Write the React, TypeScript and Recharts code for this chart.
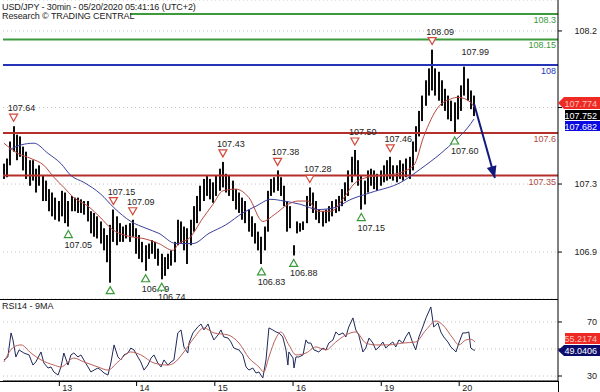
import {
  Bar,
  CartesianGrid,
  ComposedChart,
  Line,
  ReferenceLine,
  Scatter,
  XAxis,
  YAxis,
} from "recharts"

// hourly bars, t = hours since chart start
const barHigh = [
  107.42, 107.45, 107.55, 107.64, 107.59, 107.58, 107.52, 107.49, 107.44, 107.44,
  107.39, 107.41, 107.35, 107.32, 107.27, 107.25, 107.22, 107.2, 107.26, 107.25,
  107.2, 107.23, 107.22, 107.22, 107.21, 107.2, 107.2, 107.14, 107.13, 107.11,
  107.08, 107.04, 107.0, 107.06, 107.15, 107.11, 107.07, 107.05, 107.06, 107.07,
  107.09, 107.04, 107.0, 106.96, 106.94, 106.95, 106.97, 106.96, 106.92, 106.89,
  106.87, 106.89, 106.91, 106.96, 107.09, 107.08, 107.05, 107.04, 107.09, 107.17,
  107.23, 107.29, 107.33, 107.35, 107.33, 107.31, 107.35, 107.39, 107.43, 107.36,
  107.35, 107.32, 107.27, 107.25, 107.22, 107.2, 107.15, 107.11, 107.07, 107.02,
  106.99, 107.05, 107.26, 107.33, 107.34, 107.38, 107.34, 107.29, 107.2, 107.17,
  106.94, 107.08, 107.07, 107.08, 107.23, 107.28, 107.25, 107.2, 107.15, 107.14,
  107.15, 107.17, 107.2, 107.21, 107.23, 107.27, 107.31, 107.38, 107.46, 107.5,
  107.44, 107.35, 107.32, 107.38, 107.39, 107.38, 107.36, 107.38, 107.41, 107.44,
  107.46, 107.41, 107.41, 107.44, 107.42, 107.45, 107.46, 107.55, 107.64, 107.73,
  107.82, 107.91, 107.98, 108.09, 107.98, 107.96, 107.91, 107.86, 107.82, 107.79,
  107.78, 107.82, 107.88, 107.99, 107.92, 107.85, 107.82,
]
const barLow = [
  107.33, 107.34, 107.41, 107.49, 107.44, 107.46, 107.38, 107.33, 107.29, 107.32,
  107.25, 107.29, 107.2, 107.2, 107.14, 107.11, 107.09, 107.08, 107.11, 107.07,
  107.05, 107.14, 107.14, 107.13, 107.13, 107.12, 107.08, 107.01, 106.99, 106.98,
  106.95, 106.91, 106.84, 106.72, 106.96, 106.94, 106.96, 106.96, 106.98, 106.96,
  106.99, 106.89, 106.86, 106.84, 106.79, 106.86, 106.89, 106.86, 106.82, 106.74,
  106.76, 106.8, 106.82, 106.84, 106.94, 106.95, 106.91, 106.83, 106.94, 107.02,
  107.07, 107.14, 107.2, 107.23, 107.21, 107.19, 107.23, 107.26, 107.28, 107.25,
  107.23, 107.2, 107.15, 107.13, 107.09, 107.07, 107.02, 106.99, 106.95, 106.91,
  106.83, 106.91, 107.02, 107.23, 107.25, 107.26, 107.23, 107.17, 107.02, 107.04,
  106.88, 107.01, 107.02, 107.03, 107.07, 107.17, 107.13, 107.09, 107.07, 107.05,
  107.07, 107.08, 107.11, 107.13, 107.14, 107.17, 107.2, 107.23, 107.31, 107.35,
  107.29, 107.15, 107.18, 107.25, 107.29, 107.27, 107.26, 107.29, 107.31, 107.32,
  107.33, 107.32, 107.31, 107.33, 107.32, 107.34, 107.33, 107.38, 107.49, 107.58,
  107.67, 107.76, 107.82, 107.85, 107.82, 107.79, 107.76, 107.73, 107.68, 107.67,
  107.6, 107.68, 107.73, 107.82, 107.79, 107.74, 107.7,
]

// moving averages: [t, value]
const maFast: [number, number][] = [
  [0, 107.54], [4.3, 107.48], [8.4, 107.45], [12.4, 107.41], [15.5, 107.34],
  [18.6, 107.28], [21.7, 107.22], [26.1, 107.17], [30.1, 107.1], [33.2, 107.04],
  [39.4, 106.99], [43.2, 106.98], [48.1, 106.95], [52.5, 106.91], [54.3, 106.95],
  [57.5, 106.98], [61.8, 107.1], [64.9, 107.18], [68, 107.26], [72, 107.27],
  [76.1, 107.22], [80.4, 107.08], [84, 107.12], [88.2, 107.18], [91.3, 107.2],
  [94.4, 107.2], [97.5, 107.14], [101.6, 107.14], [105.6, 107.22], [108.7, 107.3],
  [113, 107.34], [117.1, 107.35], [121.7, 107.36], [127.3, 107.41], [130.4, 107.58],
  [134.8, 107.75], [138.8, 107.8], [141, 107.81], [145, 107.78], [146, 107.752],
]
const maSlow: [number, number][] = [
  [1.5, 107.5], [5.3, 107.53], [9.3, 107.54], [13.7, 107.48], [17.7, 107.42],
  [20.8, 107.35], [24.8, 107.31], [30.1, 107.24], [34.2, 107.16], [39.4, 107.08],
  [44.1, 107.04], [48.1, 107.01], [53.4, 106.95], [58.7, 106.95], [63.7, 107.01],
  [68.9, 107.06], [74.2, 107.13], [78.3, 107.17], [82.9, 107.21], [87, 107.2],
  [92.2, 107.18], [97.5, 107.15], [102.5, 107.16], [107.8, 107.21], [114, 107.25],
  [123.3, 107.31], [129.5, 107.39], [135.7, 107.48], [140.4, 107.56], [144, 107.63],
  [146, 107.682],
]

const rsi: [number, number][] = [
  [0, 41.9], [1.2, 44.1], [2.2, 61.9], [2.8, 56.7], [3.7, 44.1], [4.7, 49.3], [6.2, 47],
  [7.8, 45.6], [9, 38.1], [9.9, 40.4], [11.5, 47.8], [12.4, 39.6], [13.7, 35.9], [14.6, 36.7],
  [15.5, 33], [16.8, 30.7], [17.7, 36.7], [18.6, 47], [19.9, 38.1], [20.8, 45.6], [21.7, 47],
  [23, 44.1], [23.9, 45.6], [24.8, 41.9], [26.1, 36.7], [27, 33], [28, 34.4], [29.2, 35.9],
  [30.1, 34.4], [31.1, 32.2], [32.3, 30.7], [33.2, 39.6], [34.2, 53], [35.4, 44.1], [36.3, 41.9],
  [37.3, 45.6], [38.5, 47], [39.4, 50.7], [40.4, 49.3], [41.6, 44.1], [42.5, 40.4], [43.5, 34.4],
  [44.7, 38.1], [45.7, 43.3], [46.6, 45.6], [47.8, 39.6], [48.8, 36.7], [49.7, 41.9], [50.9, 38.1],
  [51.9, 40.4], [52.8, 41.9], [54, 61.9], [55, 64.1], [55.9, 51.5], [57.1, 47], [57.5, 54.4],
  [58.7, 61.9], [60.2, 66.3], [61.2, 68.5], [62.1, 64.1], [63.4, 68.5], [64.3, 61.9], [65.2, 56.7],
  [66.5, 60.4], [67.4, 64.1], [68.3, 58.9], [69.6, 58.1], [70.5, 55.2], [71.4, 50.7], [73, 49.3],
  [74.2, 45.6], [75.2, 36.7], [76.1, 34.4], [77.3, 35.9], [78.3, 32.2], [79.2, 33], [80.4, 28.5],
  [81.4, 41.9], [82.3, 65.6], [83.5, 64.1], [84.5, 62.6], [85.4, 61.9], [86.6, 58.9], [87.6, 49.3],
  [88.2, 38.1], [88.5, 47.8], [89.8, 43.3], [90.1, 35.9], [90.7, 44.1], [91.6, 44.1], [92.9, 45.6],
  [93.8, 56.7], [94.4, 54.4], [95.3, 54.4], [96.3, 49.3], [97.8, 47.8], [99.1, 50.7], [100, 49.3],
  [100.9, 54.4], [102.2, 56.7], [103.1, 62.6], [104, 60.4], [105.3, 61.9], [106.2, 58.9],
  [107.1, 66.3], [108.4, 73], [109.3, 64.1], [110.2, 60.4], [111.5, 47.8], [112.4, 50.7],
  [113.4, 58.1], [114.6, 54.4], [115.5, 49.3], [116.5, 51.5], [117.7, 55.2], [118.6, 50.7],
  [119.6, 53], [120.8, 55.2], [121.7, 51.5], [122.7, 56.7], [123.9, 54.4], [124.8, 58.9],
  [125.8, 62.6], [127, 54.4], [127.9, 49.3], [128.9, 58.9], [130.1, 66.3], [131.1, 73],
  [132.6, 81.1], [133.5, 66.3], [134.8, 69.3], [135.7, 62.6], [136.6, 58.9], [137.9, 55.2],
  [138.8, 51.5], [139.8, 49.3], [140.4, 47.8], [141.3, 54.4], [142.5, 61.9], [143.5, 61.9],
  [144.4, 62.6], [145, 50.7], [145.9, 49.3], [146.3, 49.04],
]
const rsiMA: [number, number][] = [
  [0, 40.4], [3.1, 51.5], [5.3, 53], [8.4, 47], [11.5, 41.9], [15.5, 38.1], [17.7, 36.7],
  [21.7, 43.3], [24.8, 40.4], [29.2, 36.7], [32.3, 34.4], [35.4, 40.4], [39.4, 47.8],
  [42.5, 45.6], [46.6, 39.6], [50.9, 38.1], [52.8, 39.6], [55.9, 47.8], [59, 58.1],
  [62.1, 65.6], [65.2, 61.9], [69.6, 60.4], [73, 54.4], [76.1, 43.3], [79.2, 36.7],
  [80.7, 33], [82.3, 44.1], [84.5, 58.1], [86, 62.6], [88.5, 53], [90.7, 45.6], [93.8, 47],
  [96.9, 51.5], [100, 49.3], [103.1, 55.2], [106.2, 60.4], [109.3, 62.6], [112.4, 54.4],
  [115.5, 53], [119.6, 53], [123.9, 54.4], [127.9, 55.2], [131.1, 64.1], [134.2, 70.7],
  [136.3, 67.8], [139.4, 58.1], [141.3, 53], [143.5, 56.7], [145, 57.2], [146.3, 55.22],
]

const peakT = [3, 34, 40, 68, 85, 95, 109, 120, 133]
const peakV = [107.64, 107.15, 107.09, 107.43, 107.38, 107.28, 107.5, 107.46, 108.09]
const plainPeakT = [143]
const plainPeakV = [107.99]
const troughT = [20, 44, 49, 80, 90, 111, 140]
const troughV = [107.05, 106.79, 106.74, 106.83, 106.88, 107.15, 107.6]
// low whose label falls under the RSI pane
const hiddenTroughT = [33]
const hiddenTroughV = [106.72]

const resistance = [108.3, 108.15]
const pivot = [108]
const support = [107.6, 107.35]

const projT = [146, 152.5]
const projV = [107.774, 107.335]

const dayTicks = [17.2, 41.2, 65.5, 89.8, 117.2, 141.4]
const dayLabels = ["13", "14", "15", "16", "19", "20"]
const priceTicks = [108.2, 107.75, 107.3, 106.9]
const priceTickLabels = ["108.2", "", "107.3", "106.9"]
const rsiTicks = [70, 50, 30]
const rsiTickLabels = ["70", "", "30"]
const priceTags = ["107.774", "107.752", "107.682"]
const rsiTags = ["55.2174", "49.0406"]

const FONT = '"Liberation Sans", Arial, sans-serif'

const bars = barHigh.map((h, i) => ({ t: i, range: [barLow[i], h] }))
const pairs = (a: [number, number][]) => a.map(([t, v]) => ({ t, v }))
const peaks = [
  ...peakT.map((t, k) => ({ t, v: peakV[k], mark: true })),
  ...plainPeakT.map((t, k) => ({ t, v: plainPeakV[k], mark: false })),
]
const troughs = [
  ...troughT.map((t, k) => ({ t, v: troughV[k], text: true })),
  ...hiddenTroughT.map((t, k) => ({ t, v: hiddenTroughV[k], text: false })),
]
const proj = projT.map((t, k) => ({ t, v: projV[k] }))

// thin price bar centred on the slot recharts gives us
const PriceBar = ({ x, y, width, height }: any) => {
  if (x == null || y == null) return <g />
  const cx = Math.round(x + width / 2)
  const top = Math.min(y, y + height)
  return <rect x={cx - 1} y={top} width={2} height={Math.max(1, Math.abs(height))} fill="#0d0d0d" />
}

const RightTick = ({ x, y, payload, values, labels }: any) => (
  <text x={x + 33} y={y + 3} textAnchor="end" fontSize={9} fill="#222" fontFamily={FONT}>
    {labels[values.indexOf(payload.value)]}
  </text>
)

const DayTick = ({ x, y, payload }: any) => (
  <g>
    <line x1={x} x2={x} y1={y} y2={y + 5} stroke="#000" />
    <text x={x + 3} y={y + 10} fontSize={9} fill="#222" fontFamily={FONT}>
      {dayLabels[dayTicks.indexOf(payload.value)]}
    </text>
  </g>
)

const LevelLabel = ({ viewBox, text, color }: any) =>
  viewBox ? (
    <text x={viewBox.x + viewBox.width - 2} y={viewBox.y + 9} textAnchor="end" fontSize={9} fill={color} fontFamily={FONT}>
      {text}
    </text>
  ) : null

const PeakMark = ({ cx, cy, payload }: any) => (
  <g>
    {payload.mark && (
      <path d={`M${cx - 4},${cy - 12} L${cx + 4},${cy - 12} L${cx},${cy - 5} Z`} fill="#fff" stroke="#d2493b" strokeWidth={1.2} />
    )}
    <text x={cx + (payload.mark ? 8 : 11)} y={cy - (payload.mark ? 15 : 12)} textAnchor="middle" fontSize={9} fill="#222" fontFamily={FONT}>
      {payload.v.toFixed(2)}
    </text>
  </g>
)

const TroughMark = ({ cx, cy, payload }: any) => (
  <g>
    <path d={`M${cx - 4},${cy + 11} L${cx + 4},${cy + 11} L${cx},${cy + 4} Z`} fill="#fff" stroke="#3a9a3a" strokeWidth={1.2} />
    {payload.text && (
      <text x={cx + 10} y={cy + 21} textAnchor="middle" fontSize={9} fill="#222" fontFamily={FONT}>
        {payload.v.toFixed(2)}
      </text>
    )}
  </g>
)

const ArrowHead = ({ cx, cy, index }: any) =>
  index === proj.length - 1 ? (
    <path key="head" d="M0,0 L-5,-12 L5,-12 Z" fill="#111a7c" transform={`translate(${cx},${cy}) rotate(-16)`} />
  ) : (
    <g key={`d${index}`} />
  )

const X_DOMAIN: [number, number] = [-0.3, 172.1]

export default function App() {
  return (
    <div style={{ position: "absolute", left: 0, top: 0, width: 600, height: 392, background: "#fff", fontFamily: FONT }}>
      <ComposedChart width={600} height={299} data={bars} margin={{ top: 0, right: 0, bottom: 0, left: 3 }}>
        <CartesianGrid vertical={false} stroke="#c4c4c4" strokeDasharray="1 3" />
        <XAxis type="number" dataKey="t" domain={X_DOMAIN} hide allowDataOverflow />
        <YAxis
          orientation="right"
          width={42}
          domain={[106.624, 108.382]}
          ticks={priceTicks}
          interval={0}
          allowDataOverflow
          axisLine={{ stroke: "#000" }}
          tickLine={{ stroke: "#000" }}
          tickSize={4}
          tick={<RightTick values={priceTicks} labels={priceTickLabels} />}
        />
        {resistance.map((v) => (
          <ReferenceLine key={v} y={v} stroke="#3c9a3c" strokeWidth={2} label={<LevelLabel text={String(v)} color="#3c9a3c" />} />
        ))}
        {pivot.map((v) => (
          <ReferenceLine key={v} y={v} stroke="#2433b8" strokeWidth={2} label={<LevelLabel text={String(v)} color="#2433b8" />} />
        ))}
        {support.map((v) => (
          <ReferenceLine key={v} y={v} stroke="#b52f2a" strokeWidth={2} label={<LevelLabel text={String(v)} color="#b04a44" />} />
        ))}
        <Bar dataKey="range" barSize={3} shape={<PriceBar />} isAnimationActive={false} />
        <Line data={pairs(maSlow)} dataKey="v" type="monotone" stroke="#3b3f9c" strokeWidth={1} dot={false} isAnimationActive={false} />
        <Line data={pairs(maFast)} dataKey="v" type="monotone" stroke="#b8473f" strokeWidth={1} dot={false} isAnimationActive={false} />
        <Line data={proj} dataKey="v" stroke="#111a7c" strokeWidth={2} dot={<ArrowHead />} activeDot={false} isAnimationActive={false} />
        <Scatter data={peaks} dataKey="v" shape={<PeakMark />} isAnimationActive={false} />
        <Scatter data={troughs} dataKey="v" shape={<TroughMark />} isAnimationActive={false} />
      </ComposedChart>

      <div style={{ position: "absolute", left: 0, top: 299 }}>
        <ComposedChart width={600} height={93} margin={{ top: 0, right: 0, bottom: 0, left: 3 }}>
          <CartesianGrid vertical={false} stroke="#c4c4c4" strokeDasharray="1 3" />
          <XAxis
            type="number"
            dataKey="t"
            domain={X_DOMAIN}
            ticks={dayTicks}
            interval={0}
            allowDataOverflow
            height={11}
            axisLine={{ stroke: "#000" }}
            tickLine={false}
            tickSize={0}
            tickMargin={0}
            tick={<DayTick />}
          />
          <YAxis
            orientation="right"
            width={42}
            domain={[26.3, 87]}
            ticks={rsiTicks}
            interval={0}
            allowDataOverflow
            axisLine={{ stroke: "#000" }}
            tickLine={{ stroke: "#000" }}
            tickSize={4}
            tick={<RightTick values={rsiTicks} labels={rsiTickLabels} />}
          />
          <Line data={pairs(rsi)} dataKey="v" stroke="#1f2858" strokeWidth={1} dot={false} isAnimationActive={false} />
          <Line data={pairs(rsiMA)} dataKey="v" type="monotone" stroke="#bd5f5a" strokeWidth={1} dot={false} isAnimationActive={false} />
        </ComposedChart>
      </div>

      <svg width={600} height={392} style={{ position: "absolute", left: 0, top: 0, pointerEvents: "none" }} fontFamily={FONT}>
        <line x1={0} x2={558} y1={299.5} y2={299.5} stroke="#000" />
        <line x1={0} x2={558} y1={381.5} y2={381.5} stroke="#000" />
        <line x1={558.5} x2={558.5} y1={381} y2={392} stroke="#000" />
        <rect x={0} y={11} width={130} height={10} fill="#fff" />
        <text x={2} y={10} fontSize={9} fill="#222" letterSpacing={-0.1}>
          USD/JPY - 30min - 05/20/2020 05:41:16 (UTC+2)
        </text>
        <text x={2} y={19} fontSize={9} fill="#222" letterSpacing={-0.1}>
          Research © TRADING CENTRAL
        </text>
        <text x={2} y={309} fontSize={9} fill="#222">RSI14 - 9MA</text>

        <polygon points="558,103 564,97 600,97 600,109 564,109" fill="#ee2a24" />
        <text x={597} y={106.5} textAnchor="end" fontSize={9} fill="#ffc0b8">{priceTags[0]}</text>
        <rect x={565} y={110} width={35} height={10} fill="#000" />
        <text x={597} y={118.5} textAnchor="end" fontSize={9} fill="#fff">{priceTags[1]}</text>
        <rect x={565} y={121} width={35} height={10} fill="#0a0ae0" />
        <text x={597} y={129.5} textAnchor="end" fontSize={9} fill="#fff">{priceTags[2]}</text>

        <rect x={565} y={333} width={35} height={11} fill="#ee2a24" />
        <text x={597} y={342} textAnchor="end" fontSize={9} fill="#ffc0b8">{rsiTags[0]}</text>
        <polygon points="558,350.5 564,345 600,345 600,356 564,356" fill="#0b0b6c" />
        <text x={597} y={354} textAnchor="end" fontSize={9} fill="#fff">{rsiTags[1]}</text>
      </svg>
    </div>
  )
}
